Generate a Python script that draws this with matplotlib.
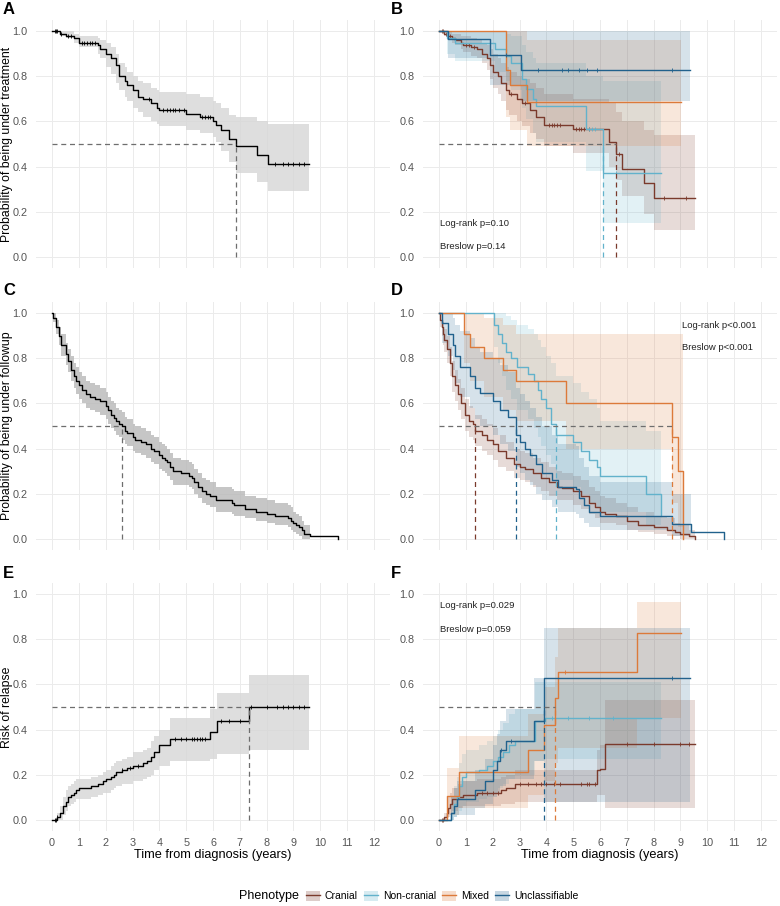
import numpy as np
import matplotlib
matplotlib.use('Agg')
import matplotlib.pyplot as plt
from matplotlib.patches import Patch
from matplotlib.lines import Line2D

plt.rcParams['font.family'] = ['Liberation Sans', 'DejaVu Sans']

GROUPS = ['Cranial', 'Non-cranial', 'Mixed', 'Unclassifiable']
COLORS = ['#7A3A2C', '#62B2CB', '#DC7A3A', '#21618C']

# ---- A: treatment, all patients
a_t = [0, 0.3, 0.5, 0.8, 1.0, 1.7, 1.8, 2.0, 2.2, 2.4, 2.5, 2.7, 2.8, 3.0, 3.2, 3.4, 3.7, 3.9, 4.0, 5.0, 5.5, 6.0, 6.1, 6.3, 6.6, 6.86, 7.63, 8.04, 9.59]
a_s = [1.0, 0.99, 0.98, 0.97, 0.95, 0.94, 0.92, 0.90, 0.88, 0.85, 0.80, 0.78, 0.76, 0.74, 0.71, 0.70, 0.68, 0.66, 0.65, 0.635, 0.62, 0.60, 0.585, 0.56, 0.52, 0.49, 0.45, 0.41, 0.41]
a_hi = [1.0, 1.0, 1.0, 0.99, 0.98, 0.97, 0.96, 0.95, 0.93, 0.90, 0.86, 0.84, 0.82, 0.80, 0.78, 0.77, 0.75, 0.74, 0.73, 0.72, 0.71, 0.69, 0.68, 0.66, 0.63, 0.62, 0.60, 0.59, 0.59]
a_lo = [1.0, 0.98, 0.97, 0.95, 0.93, 0.90, 0.88, 0.84, 0.81, 0.77, 0.74, 0.71, 0.69, 0.66, 0.64, 0.62, 0.60, 0.59, 0.58, 0.56, 0.55, 0.53, 0.51, 0.47, 0.42, 0.37, 0.33, 0.29, 0.29]
a_cens = [0.1, 0.15, 0.2, 0.35, 0.6, 0.7, 1.1, 1.2, 1.3, 1.4, 1.5, 1.6, 3.6, 4.15, 4.3, 4.4, 4.5, 4.6, 4.75, 4.9,
          5.6, 5.7, 5.8, 5.9, 8.3, 8.6, 8.8, 9.0, 9.2, 9.4]

# ---- C: follow-up, all patients
c_t = [0, 0.05, 0.15, 0.25, 0.35, 0.5, 0.6, 0.7, 0.8, 0.9, 1.0, 1.1, 1.25, 1.4, 1.6, 1.8, 2.0, 2.1, 2.2, 2.3,
       2.4, 2.5, 2.6, 2.7, 2.8, 3.0, 3.1, 3.3, 3.5, 3.7, 3.8, 4.0, 4.1, 4.2, 4.3, 4.4, 4.5, 4.8, 5.1, 5.2,
       5.3, 5.45, 5.6, 5.75, 5.9, 6.1, 6.7, 6.8, 7.2, 7.6, 8.0, 8.3, 8.8, 8.9, 9.0, 9.1, 9.2, 9.3, 9.4, 9.6, 10.65]
c_s = [1.0, 0.98, 0.94, 0.90, 0.86, 0.82, 0.79, 0.75, 0.72, 0.70, 0.68, 0.66, 0.64, 0.63, 0.62, 0.61, 0.59, 0.57, 0.55, 0.535,
       0.52, 0.51, 0.50, 0.48, 0.47, 0.45, 0.44, 0.43, 0.42, 0.40, 0.39, 0.37, 0.36, 0.35, 0.34, 0.32, 0.30, 0.29, 0.28, 0.27,
       0.25, 0.23, 0.21, 0.20, 0.19, 0.17, 0.16, 0.15, 0.13, 0.12, 0.11, 0.10, 0.09, 0.08, 0.07, 0.06, 0.05, 0.04, 0.02, 0.01, 0.0]
c_hi = [1.0, 1.0, 0.97, 0.94, 0.91, 0.87, 0.84, 0.81, 0.78, 0.76, 0.74, 0.72, 0.70, 0.69, 0.68, 0.67, 0.65, 0.63, 0.61, 0.60,
        0.58, 0.57, 0.56, 0.54, 0.53, 0.51, 0.50, 0.49, 0.48, 0.46, 0.45, 0.43, 0.42, 0.41, 0.40, 0.38, 0.36, 0.35, 0.34, 0.33,
        0.31, 0.29, 0.27, 0.26, 0.25, 0.23, 0.22, 0.21, 0.19, 0.18, 0.17, 0.16, 0.15, 0.14, 0.12, 0.11, 0.10, 0.08, 0.06, 0.01, 0.0]
c_lo = [1.0, 0.96, 0.91, 0.86, 0.81, 0.77, 0.74, 0.70, 0.67, 0.64, 0.62, 0.60, 0.58, 0.57, 0.56, 0.55, 0.53, 0.51, 0.49, 0.48,
        0.46, 0.45, 0.44, 0.42, 0.41, 0.39, 0.38, 0.37, 0.36, 0.34, 0.33, 0.31, 0.30, 0.29, 0.28, 0.26, 0.24, 0.24, 0.23, 0.22,
        0.20, 0.18, 0.16, 0.15, 0.14, 0.12, 0.11, 0.10, 0.09, 0.08, 0.07, 0.06, 0.05, 0.04, 0.03, 0.02, 0.01, 0.0, 0.0, 0.01, 0.0]

# ---- E: relapse, all patients
e_t = [0, 0.2, 0.3, 0.4, 0.5, 0.6, 0.7, 0.8, 0.9, 1.0, 1.45, 1.7, 1.9, 2.0, 2.2, 2.3, 2.4, 2.6, 2.8, 3.0,
       3.4, 3.55, 3.7, 3.8, 4.0, 4.4, 5.9, 6.15, 7.36, 9.59]
e_s = [0, 0.01, 0.03, 0.06, 0.08, 0.10, 0.11, 0.12, 0.13, 0.14, 0.15, 0.16, 0.17, 0.18, 0.19, 0.20, 0.21, 0.22, 0.23, 0.24,
       0.25, 0.26, 0.28, 0.30, 0.33, 0.36, 0.39, 0.44, 0.50, 0.50]
e_hi = [0, 0.03, 0.06, 0.10, 0.13, 0.15, 0.16, 0.17, 0.18, 0.18, 0.19, 0.20, 0.21, 0.22, 0.24, 0.25, 0.26, 0.27, 0.28, 0.30,
        0.31, 0.32, 0.35, 0.37, 0.40, 0.45, 0.49, 0.56, 0.64, 0.64]
e_lo = [0, 0.0, 0.0, 0.02, 0.04, 0.06, 0.07, 0.08, 0.09, 0.09, 0.10, 0.11, 0.12, 0.12, 0.13, 0.14, 0.15, 0.16, 0.16, 0.17,
        0.18, 0.19, 0.20, 0.22, 0.24, 0.26, 0.27, 0.29, 0.31, 0.31]
e_cens = [0.1, 0.15, 0.2, 2.6, 2.9, 3.2, 4.6, 4.8, 5.0, 5.2, 5.3, 5.4, 5.5, 5.6, 5.7, 6.3, 6.6, 7.0, 7.4, 8.0,
          8.4, 8.6, 8.8, 9.0, 9.2, 9.4]

# ---- B: treatment by phenotype
b_cran_t = [0, 0.2, 0.3, 0.5, 0.6, 0.8, 0.9, 1.2, 1.4, 1.6, 1.8, 1.9, 2.0, 2.2, 2.3, 2.5, 2.6, 2.9, 3.1, 3.4,
            3.6, 3.9, 5.0, 6.33, 6.6, 6.82, 7.65, 8.03, 9.55]
b_cran_s = [1.0, 0.99, 0.98, 0.97, 0.96, 0.95, 0.94, 0.93, 0.92, 0.90, 0.88, 0.85, 0.82, 0.80, 0.77, 0.74, 0.72, 0.70, 0.68, 0.65,
            0.62, 0.585, 0.565, 0.51, 0.455, 0.39, 0.325, 0.26, 0.26]
b_cran_hi = [1.0, 1.0, 1.0, 0.99, 0.99, 0.98, 0.98, 0.97, 0.96, 0.95, 0.94, 0.92, 0.90, 0.88, 0.86, 0.84, 0.82, 0.80, 0.79, 0.77,
             0.75, 0.72, 0.70, 0.68, 0.64, 0.60, 0.56, 0.54, 0.54]
b_cran_lo = [1.0, 0.98, 0.96, 0.95, 0.94, 0.92, 0.91, 0.89, 0.88, 0.86, 0.83, 0.79, 0.75, 0.72, 0.69, 0.65, 0.63, 0.60, 0.58, 0.55,
             0.52, 0.49, 0.46, 0.40, 0.34, 0.27, 0.19, 0.12, 0.12]
b_cran_cens = [0.1, 0.15, 0.25, 0.4, 1.0, 1.1, 1.3, 2.7, 3.2, 4.1, 4.2, 4.3, 4.4, 4.5, 5.1, 5.2, 5.3, 5.4, 5.6, 6.7, 8.4, 9.2]

b_ncran_t = [0, 0.3, 0.6, 2.1, 2.5, 2.7, 3.1, 3.25, 3.5, 3.6, 5.46, 6.1, 8.28]
b_ncran_s = [1.0, 0.97, 0.95, 0.92, 0.89, 0.86, 0.79, 0.745, 0.70, 0.67, 0.565, 0.37, 0.37]
b_ncran_hi = [1.0, 1.0, 1.0, 1.0, 0.99, 0.98, 0.94, 0.91, 0.88, 0.86, 0.80, 0.78, 0.78]
b_ncran_lo = [1.0, 0.90, 0.87, 0.82, 0.78, 0.74, 0.66, 0.61, 0.55, 0.51, 0.38, 0.15, 0.15]
b_ncran_cens = [5.6, 5.7, 5.8, 6.6]

b_mix_t = [0, 2.49, 2.63, 3.26, 9.02]
b_mix_s = [1.0, 0.83, 0.76, 0.685, 0.685]
b_mix_hi = [1.0, 1.0, 1.0, 0.96, 0.96]
b_mix_lo = [1.0, 0.62, 0.56, 0.49, 0.49]
b_mix_cens = []

b_uncl_t = [0, 0.35, 1.9, 3.05, 9.37]
b_uncl_s = [1.0, 0.965, 0.894, 0.83, 0.83]
b_uncl_hi = [1.0, 1.0, 1.0, 1.0, 1.0]
b_uncl_lo = [1.0, 0.88, 0.76, 0.69, 0.69]
b_uncl_cens = [2.5, 3.7, 4.6, 4.8, 5.2, 5.5, 5.9, 8.7]

# ---- D: follow-up by phenotype
d_cran_t = [0, 0.05, 0.1, 0.15, 0.2, 0.3, 0.4, 0.5, 0.6, 0.7, 0.8, 0.95, 1.1, 1.25, 1.35, 1.6, 1.8, 2.0, 2.2, 2.5,
            2.8, 3.0, 3.2, 3.5, 3.8, 4.1, 4.4, 4.6, 5.0, 5.3, 5.6, 5.8, 6.0, 6.2, 6.6, 7.0, 7.4, 8.0, 8.5, 8.8,
            9.0, 9.3, 9.55]
d_cran_s = [1.0, 0.97, 0.94, 0.91, 0.88, 0.84, 0.78, 0.72, 0.68, 0.64, 0.60, 0.55, 0.52, 0.51, 0.48, 0.46, 0.44, 0.42, 0.39, 0.36,
            0.33, 0.32, 0.31, 0.29, 0.27, 0.25, 0.23, 0.225, 0.21, 0.19, 0.16, 0.14, 0.12, 0.11, 0.10, 0.08, 0.06, 0.05, 0.04, 0.03,
            0.02, 0.01, 0.0]
d_cran_hi = [1.0, 1.0, 0.98, 0.96, 0.93, 0.90, 0.85, 0.79, 0.75, 0.71, 0.67, 0.62, 0.59, 0.58, 0.55, 0.53, 0.51, 0.49, 0.46, 0.43,
             0.40, 0.39, 0.38, 0.36, 0.34, 0.32, 0.30, 0.29, 0.28, 0.26, 0.23, 0.21, 0.19, 0.18, 0.16, 0.14, 0.12, 0.10, 0.09, 0.07,
             0.06, 0.04, 0.0]
d_cran_lo = [1.0, 0.94, 0.90, 0.86, 0.83, 0.78, 0.72, 0.65, 0.61, 0.57, 0.53, 0.48, 0.45, 0.44, 0.41, 0.39, 0.37, 0.35, 0.32, 0.30,
             0.27, 0.26, 0.25, 0.23, 0.21, 0.19, 0.17, 0.17, 0.15, 0.13, 0.11, 0.09, 0.07, 0.07, 0.06, 0.04, 0.03, 0.02, 0.01, 0.01,
             0.0, 0.0, 0.0]

d_ncran_t = [0, 2.05, 2.2, 2.35, 2.5, 2.7, 2.9, 3.3, 3.55, 3.7, 3.8, 4.0, 4.19, 4.37, 5.0, 5.3, 5.6, 5.9, 6.0, 7.72, 8.28]
d_ncran_s = [1.0, 0.95, 0.91, 0.87, 0.83, 0.80, 0.76, 0.73, 0.70, 0.66, 0.62, 0.58, 0.51, 0.46, 0.43, 0.39, 0.35, 0.32, 0.28, 0.20, 0.10]
d_ncran_hi = [1.0, 1.0, 1.0, 1.0, 0.99, 0.97, 0.95, 0.93, 0.91, 0.88, 0.85, 0.81, 0.78, 0.72, 0.69, 0.65, 0.62, 0.58, 0.52, 0.48, 0.38]
d_ncran_lo = [1.0, 0.85, 0.78, 0.72, 0.66, 0.62, 0.57, 0.53, 0.49, 0.45, 0.41, 0.37, 0.33, 0.26, 0.23, 0.20, 0.16, 0.14, 0.12, 0.06, 0.03]

d_mix_t = [0, 0.92, 1.14, 1.67, 2.38, 2.88, 4.74, 8.68, 8.9, 9.08]
d_mix_s = [1.0, 0.91, 0.85, 0.80, 0.75, 0.70, 0.60, 0.45, 0.30, 0.0]
d_mix_hi = [1.0, 1.0, 1.0, 0.98, 0.95, 0.91, 0.91, 0.91, 0.91, 0.0]
d_mix_lo = [1.0, 0.78, 0.70, 0.63, 0.57, 0.52, 0.40, 0.16, 0.05, 0.0]

d_uncl_t = [0, 0.1, 0.35, 0.53, 0.6, 0.78, 1.15, 1.34, 1.53, 2.0, 2.27, 2.58, 2.87, 3.0, 3.2, 3.4, 3.6, 3.85, 4.2, 4.45,
            5.1, 5.2, 5.4, 5.6, 6.0, 8.68, 9.39, 10.63]
d_uncl_s = [1.0, 0.955, 0.91, 0.86, 0.81, 0.76, 0.72, 0.67, 0.645, 0.61, 0.57, 0.54, 0.46, 0.43, 0.40, 0.37, 0.33, 0.29, 0.26, 0.23,
            0.22, 0.18, 0.15, 0.12, 0.10, 0.065, 0.03, 0.0]
d_uncl_hi = [1.0, 1.0, 1.0, 0.98, 0.95, 0.92, 0.89, 0.85, 0.83, 0.80, 0.77, 0.74, 0.67, 0.64, 0.61, 0.58, 0.54, 0.50, 0.46, 0.42,
             0.41, 0.36, 0.32, 0.28, 0.25, 0.20, 0.03, 0.0]
d_uncl_lo = [1.0, 0.87, 0.81, 0.75, 0.69, 0.63, 0.58, 0.53, 0.50, 0.46, 0.42, 0.39, 0.32, 0.29, 0.26, 0.24, 0.20, 0.17, 0.14, 0.12,
             0.11, 0.09, 0.07, 0.05, 0.04, 0.01, 0.03, 0.0]

# ---- F: relapse by phenotype
f_cran_t = [0, 0.2, 0.3, 0.35, 0.4, 0.5, 0.7, 0.9, 1.4, 2.3, 2.5, 2.84, 5.88, 6.0, 6.17, 9.55]
f_cran_s = [0, 0.01, 0.03, 0.05, 0.07, 0.09, 0.10, 0.11, 0.12, 0.13, 0.14, 0.16, 0.22, 0.225, 0.335, 0.335]
f_cran_hi = [0, 0.03, 0.07, 0.10, 0.12, 0.14, 0.16, 0.17, 0.18, 0.19, 0.20, 0.22, 0.31, 0.33, 0.53, 0.53]
f_cran_lo = [0, 0.0, 0.0, 0.01, 0.02, 0.04, 0.05, 0.06, 0.06, 0.07, 0.07, 0.08, 0.11, 0.11, 0.05, 0.05]
f_cran_cens = [0.1, 0.15, 1.6, 1.8, 2.0, 2.2, 3.0, 3.3, 3.6, 3.8, 4.0, 4.3, 4.5, 5.3, 5.5, 5.6, 5.8, 7.0, 8.0, 9.0, 9.3]

f_ncran_t = [0, 0.45, 0.55, 0.65, 0.75, 0.85, 1.0, 1.5, 1.8, 2.0, 2.2, 2.4, 2.6, 2.83, 3.57, 3.95, 8.28]
f_ncran_s = [0, 0.03, 0.07, 0.10, 0.15, 0.19, 0.21, 0.22, 0.24, 0.26, 0.28, 0.30, 0.33, 0.35, 0.44, 0.45, 0.45]
f_ncran_hi = [0, 0.10, 0.15, 0.19, 0.25, 0.29, 0.31, 0.33, 0.35, 0.37, 0.40, 0.43, 0.47, 0.49, 0.61, 0.61, 0.61]
f_ncran_lo = [0, 0.0, 0.01, 0.02, 0.04, 0.06, 0.08, 0.09, 0.10, 0.12, 0.14, 0.16, 0.18, 0.20, 0.26, 0.27, 0.27]
f_ncran_cens = [4.2, 4.8, 5.6, 6.5]

f_mix_t = [0, 0.3, 0.74, 3.33, 3.93, 4.33, 4.43, 7.37, 9.02]
f_mix_s = [0, 0.105, 0.21, 0.31, 0.42, 0.54, 0.655, 0.83, 0.83]
f_mix_hi = [0, 0.23, 0.37, 0.47, 0.59, 0.72, 0.85, 0.965, 0.965]
f_mix_lo = [0, 0.02, 0.05, 0.11, 0.17, 0.25, 0.32, 0.45, 0.45]
f_mix_cens = [4.7]

f_uncl_t = [0, 0.45, 0.55, 0.65, 1.35, 1.7, 2.0, 2.15, 2.26, 2.5, 3.54, 3.93, 9.37]
f_uncl_s = [0, 0.03, 0.06, 0.09, 0.13, 0.17, 0.22, 0.26, 0.31, 0.35, 0.44, 0.63, 0.63]
f_uncl_hi = [0, 0.10, 0.14, 0.17, 0.22, 0.27, 0.33, 0.38, 0.44, 0.49, 0.63, 0.85, 0.85]
f_uncl_lo = [0, 0.0, 0.01, 0.02, 0.05, 0.07, 0.10, 0.12, 0.15, 0.18, 0.26, 0.08, 0.08]
f_uncl_cens = [2.3, 2.7, 8.7]

# medians (years)
a_median = 6.86
c_median = 2.6
e_median = 7.36
b_medians = {'Cranial': 6.6, 'Non-cranial': 6.1}
d_medians = {'Cranial': 1.35, 'Non-cranial': 4.37, 'Mixed': 8.68, 'Unclassifiable': 2.87}
f_medians = {'Mixed': 4.33, 'Unclassifiable': 3.93}

b_text = ['Log-rank p=0.10', 'Breslow p=0.14']
d_text = ['Log-rank p<0.001', 'Breslow p<0.001']
f_text = ['Log-rank p=0.029', 'Breslow p=0.059']

GRAY_DASH = '#6E6E6E'


def draw_curve(ax, t, s, lo, hi, color, fill, alpha, cens=()):
    ax.fill_between(t, lo, hi, step='post', color=fill, alpha=alpha, lw=0)
    ax.step(t, s, where='post', color=color, lw=1.0)
    if len(cens):
        t_arr = np.array(t)
        idx = np.searchsorted(t_arr, cens, side='right') - 1
        ax.plot(cens, np.array(s)[idx], ls='none', marker='|', ms=3.5, mew=0.6, color=color)


def medians(ax, med):
    # med: dict group -> median, or a single value
    if isinstance(med, dict):
        end = max(med.values())
        ax.plot([0, end], [0.5, 0.5], ls=(0, (4, 3)), color=GRAY_DASH, lw=0.9)
        for g, m in med.items():
            ax.plot([m, m], [0, 0.5], ls=(0, (4, 3)), color=COLORS[GROUPS.index(g)], lw=0.9)
    else:
        ax.plot([0, med], [0.5, 0.5], ls=(0, (4, 3)), color=GRAY_DASH, lw=0.9)
        ax.plot([med, med], [0, 0.5], ls=(0, (4, 3)), color=GRAY_DASH, lw=0.9)


def style(ax, bottom):
    ax.set_xlim(-0.6, 12.6)
    ax.set_ylim(-0.05, 1.05)
    ax.set_xticks(range(13))
    ax.set_yticks([0, 0.2, 0.4, 0.6, 0.8, 1.0])
    ax.set_yticklabels(['0.0', '0.2', '0.4', '0.6', '0.8', '1.0'])
    ax.grid(True, color='#EBEBEB', lw=0.7)
    ax.set_axisbelow(True)
    for sp in ax.spines.values():
        sp.set_visible(False)
    ax.tick_params(length=0, labelsize=7.8, labelcolor='#555555', pad=6)
    ax.tick_params(axis='x', pad=5)
    if bottom:
        ax.set_xlabel('Time from diagnosis (years)', fontsize=9.2, labelpad=1)
    else:
        ax.set_xticklabels([])


fig = plt.figure(figsize=(7.8, 9.06), dpi=100)
W, H = 780, 906


def make_ax(left_px, top_px):
    return fig.add_axes([left_px / W, 1 - (top_px + 248) / H, 354 / W, 248 / H])


axA = make_ax(36, 20)
axB = make_ax(423, 20)
axC = make_ax(36, 302)
axD = make_ax(423, 302)
axE = make_ax(36, 583)
axF = make_ax(423, 583)

# A
draw_curve(axA, a_t, a_s, a_lo, a_hi, 'black', '#D6D6D6', 0.8, a_cens)
medians(axA, a_median)
axA.set_ylabel('Probability of being under treatment', fontsize=8.8, labelpad=0)

# C
draw_curve(axC, c_t, c_s, c_lo, c_hi, 'black', '#B8B8B8', 0.8)
medians(axC, c_median)
axC.set_ylabel('Probability of being under followup', fontsize=8.8, labelpad=0)

# E
draw_curve(axE, e_t, e_s, e_lo, e_hi, 'black', '#D6D6D6', 0.8, e_cens)
medians(axE, e_median)
axE.set_ylabel('Risk of relapse', fontsize=8.8, labelpad=0)

# B
b_data = [(b_cran_t, b_cran_s, b_cran_lo, b_cran_hi, b_cran_cens),
          (b_ncran_t, b_ncran_s, b_ncran_lo, b_ncran_hi, b_ncran_cens),
          (b_mix_t, b_mix_s, b_mix_lo, b_mix_hi, b_mix_cens),
          (b_uncl_t, b_uncl_s, b_uncl_lo, b_uncl_hi, b_uncl_cens)]
for (t, s, lo, hi, cens), col in zip(b_data, COLORS):
    draw_curve(axB, t, s, lo, hi, col, col, 0.18, cens)
medians(axB, b_medians)
axB.text(0.05, 0.148, b_text[0], fontsize=6.8, va='center', color='#222222')
axB.text(0.05, 0.044, b_text[1], fontsize=6.8, va='center', color='#222222')

# D
d_data = [(d_cran_t, d_cran_s, d_cran_lo, d_cran_hi),
          (d_ncran_t, d_ncran_s, d_ncran_lo, d_ncran_hi),
          (d_mix_t, d_mix_s, d_mix_lo, d_mix_hi),
          (d_uncl_t, d_uncl_s, d_uncl_lo, d_uncl_hi)]
for (t, s, lo, hi), col in zip(d_data, COLORS):
    draw_curve(axD, t, s, lo, hi, col, col, 0.18)
medians(axD, d_medians)
axD.text(9.06, 0.945, d_text[0], fontsize=6.8, va='center', color='#222222')
axD.text(9.06, 0.85, d_text[1], fontsize=6.8, va='center', color='#222222')

# F
f_data = [(f_cran_t, f_cran_s, f_cran_lo, f_cran_hi, f_cran_cens),
          (f_ncran_t, f_ncran_s, f_ncran_lo, f_ncran_hi, f_ncran_cens),
          (f_mix_t, f_mix_s, f_mix_lo, f_mix_hi, f_mix_cens),
          (f_uncl_t, f_uncl_s, f_uncl_lo, f_uncl_hi, f_uncl_cens)]
for (t, s, lo, hi, cens), col in zip(f_data, COLORS):
    draw_curve(axF, t, s, lo, hi, col, col, 0.18, cens)
medians(axF, f_medians)
axF.text(0.05, 0.95, f_text[0], fontsize=6.8, va='center', color='#222222')
axF.text(0.05, 0.845, f_text[1], fontsize=6.8, va='center', color='#222222')

for ax, bottom in [(axA, False), (axB, False), (axC, False), (axD, False), (axE, True), (axF, True)]:
    style(ax, bottom)

# panel letters
for lab, x, y in [('A', 3, 10), ('B', 391, 10), ('C', 3, 290), ('D', 391, 290), ('E', 3, 574), ('F', 391, 574)]:
    fig.text(x / W, 1 - y / H, lab, fontsize=12, fontweight='bold', va='center', ha='left')

# legend
handles = [(Patch(facecolor=c, alpha=0.25, lw=0), Line2D([], [], color=c, lw=1.0)) for c in COLORS]
fig.text(239 / W, 1 - 896 / H, 'Phenotype', fontsize=9.0, va='center', ha='left')
fig.legend(handles, GROUPS, ncol=4, loc='center left', bbox_to_anchor=(306 / W, 1 - 896 / H),
           frameon=False, fontsize=7.5, handlelength=1.3, handleheight=1.1, handletextpad=0.5,
           columnspacing=0.6, borderpad=0, borderaxespad=0)

fig.savefig('out.png', dpi=100)
